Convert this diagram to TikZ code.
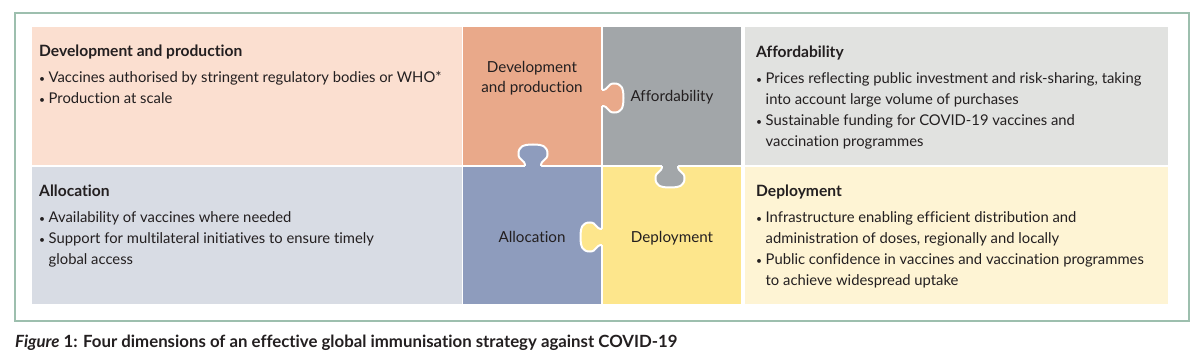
\documentclass[tikz,border=0pt]{standalone}
\usepackage{graphicx}
\usepackage{fontspec}
\setmainfont{Lato}[Ligatures=NoCommon]
\definecolor{ltop}{HTML}{FBDFD0}
\definecolor{devc}{HTML}{E9A98A}
\definecolor{affc}{HTML}{A2A6A9}
\definecolor{rtop}{HTML}{E1E2E0}
\definecolor{lbot}{HTML}{D8DCE4}
\definecolor{allc}{HTML}{8E9CBD}
\definecolor{depc}{HTML}{FDE68C}
\definecolor{rbot}{HTML}{FEF4D4}
\definecolor{framec}{HTML}{9DBFAE}
\definecolor{txt}{HTML}{231F20}
\newcommand{\bul}{\makebox[9.5pt][l]{\raisebox{0.6pt}{\scalebox{0.7}{\textbullet}}}}
\tikzset{
  body/.style={anchor=base west, inner sep=0pt, font=\fontsize{14.8}{21}\selectfont, text=txt},
  head/.style={anchor=base west, inner sep=0pt, font=\fontsize{15.6}{21}\selectfont\bfseries, text=txt},
  plabel/.style={anchor=base, inner sep=0pt, font=\fontsize{15.2}{20}\selectfont, text=txt, align=center},
  knobline/.style={draw=white, line width=2pt}
}
\newcommand{\knobfill}{(-3,-8) -- (0,-8) .. controls (7,-8) and (5,-14.5) .. (12,-14.5) .. controls (19.5,-14.5) and (21.5,-10) .. (21.5,0) .. controls (21.5,10) and (19.5,14.5) .. (12,14.5) .. controls (5,14.5) and (7,8) .. (0,8) -- (-3,8) -- cycle}
\newcommand{\knobedge}{(0,-8) .. controls (7,-8) and (5,-14.5) .. (12,-14.5) .. controls (19.5,-14.5) and (21.5,-10) .. (21.5,0) .. controls (21.5,10) and (19.5,14.5) .. (12,14.5) .. controls (5,14.5) and (7,8) .. (0,8)}
\begin{document}
\begin{tikzpicture}[x=1pt,y=-1pt]
\useasboundingbox[fill=white] (0,0) rectangle (1200,358);
% frame
\draw[framec, line width=1.2pt] (15,13) rectangle (1189,321);
% panels
\fill[ltop] (32,27) rectangle (461.5,165);
\fill[lbot] (32,167) rectangle (461.5,304);
\fill[rtop] (745,27) rectangle (1168,165);
\fill[rbot] (745,167) rectangle (1168,304);
% pieces
\fill[devc] (463,27) rectangle (601,165);
\fill[affc] (603,27) rectangle (741,165);
\fill[allc] (463,167) rectangle (601,304);
\fill[depc] (603,167) rectangle (741,304);
% knobs
\begin{scope}[shift={(602,98)}]
  \fill[devc] \knobfill; \draw[knobline] \knobedge;
\end{scope}
\begin{scope}[shift={(670,166)}, rotate=-90]
  \fill[affc] \knobfill; \draw[knobline] \knobedge;
\end{scope}
\begin{scope}[shift={(533,166)}, rotate=90]
  \fill[allc] \knobfill; \draw[knobline] \knobedge;
\end{scope}
\begin{scope}[shift={(602,237)}, rotate=180]
  \fill[depc] \knobfill; \draw[knobline] \knobedge;
\end{scope}
% piece labels
\node[plabel] (pdev) at (532,93) {Development\\and production};
\node[plabel] (paff) at (672,102) {Affordability};
\node[plabel] (pall) at (532,243) {Allocation};
\node[plabel] (pdep) at (672,243) {Deployment};
% left top
\node[head] (h1) at (39,57) {Development and production};
\node[body] (a1) at (39,83) {\bul Vaccines authorised by stringent regulatory bodies or WHO*};
\node[body] (a2) at (39,104) {\bul Production at scale};
% right top
\node[head] (h2) at (756,58) {Affordability};
\node[body] (b1) at (756,84) {\bul Prices reflecting public investment and risk-sharing, taking};
\node[body] (b2) at (765.5,105) {into account large volume of purchases};
\node[body] (b3) at (756,126) {\bul Sustainable funding for COVID-19 vaccines and};
\node[body] (b4) at (765.5,147) {vaccination programmes};
% left bottom
\node[head] (h3) at (39,197) {Allocation};
\node[body] (c1) at (39,223) {\bul Availability of vaccines where needed};
\node[body] (c2) at (39,244) {\bul Support for multilateral initiatives to ensure timely};
\node[body] (c3) at (48.5,265) {global access};
% right bottom
\node[head] (h4) at (756,197) {Deployment};
\node[body] (d1) at (756,223) {\bul Infrastructure enabling efficient distribution and};
\node[body] (d2) at (765.5,244) {administration of doses, regionally and locally};
\node[body] (d3) at (756,265) {\bul Public confidence in vaccines and vaccination programmes};
\node[body] (d4) at (765.5,286) {to achieve widespread uptake};
% caption
\node[anchor=base west, inner sep=0pt, font=\fontsize{16.8}{18}\selectfont\bfseries, text=txt] (cap) at (15,347) {\textit{Figure} 1: Four dimensions of an effective global immunisation strategy against COVID-19};
\end{tikzpicture}
\end{document}
